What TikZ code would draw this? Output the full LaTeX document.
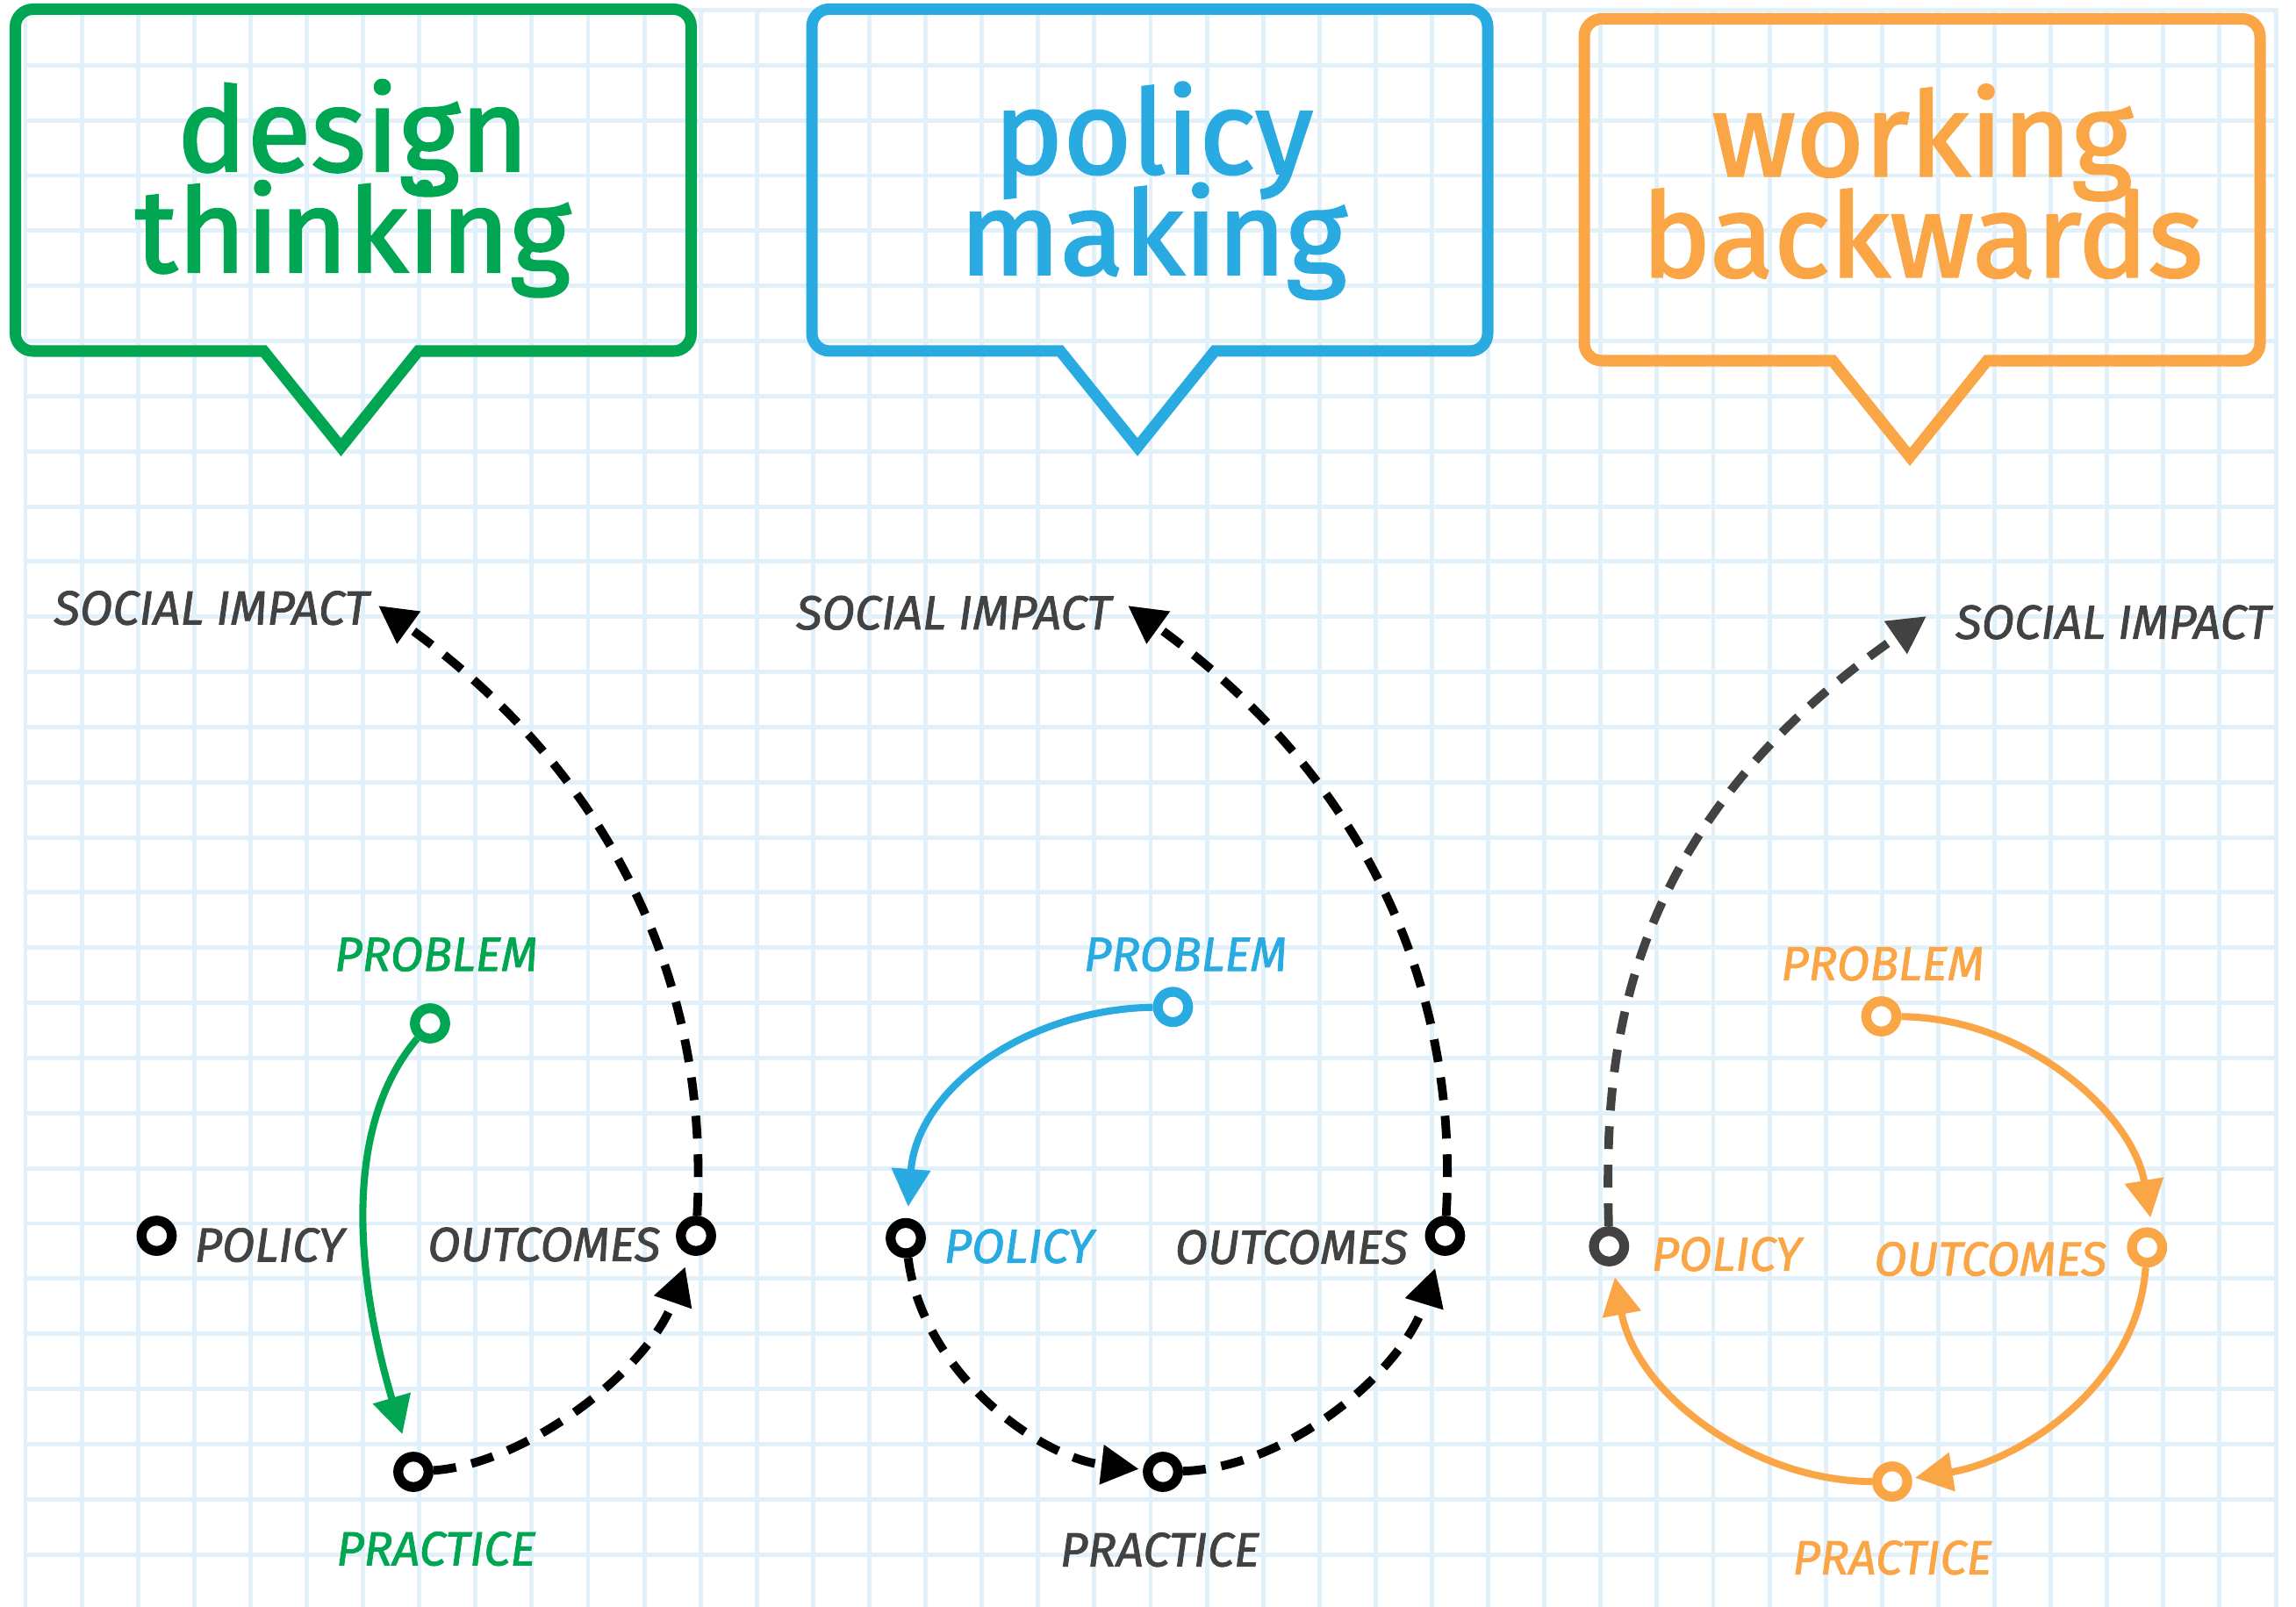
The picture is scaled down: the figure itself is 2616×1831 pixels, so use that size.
\documentclass[tikz,border=0pt]{standalone}
\usepackage{fontspec}
\setmainfont{Fira Sans}
\newfontfamily\titlefont{Fira Sans}[FakeBold=1.8]
\newfontfamily\tagfont{Fira Sans}[FakeBold=1.5]
\newcommand\bubblefont{\titlefont\fontsize{38}{32.7}\selectfont
  \lineskiplimit=-60pt\relax}
\usetikzlibrary{arrows.meta}
\definecolor{dtgreen}{RGB}{0,166,81}
\definecolor{pmblue}{RGB}{41,171,226}
\definecolor{wborange}{RGB}{250,166,70}
\definecolor{inkgray}{RGB}{66,66,66}
\definecolor{gridblue}{RGB}{226,241,249}

\begin{document}
\begin{tikzpicture}[x=0.01cm,y=-0.01cm,
gridline/.style={gridblue,line width=1.4pt},
bubble/.style={line width=3.7pt,line join=miter},
title/.style={anchor=base,inner sep=0pt,align=center,font=\bubblefont},
tag/.style={inner sep=0pt,font=\tagfont\itshape\fontsize{15.5}{15.5}\selectfont},
dot/.style={circle,draw=#1,fill=white,minimum size=0.345cm,inner sep=0pt,
  line width=3.2pt},
dot/.default=black,
flow/.style={line width=2.3pt,-{Triangle[length=12.2pt,width=12.2pt]}},
jump/.style={flow,line width=2.8pt,dash pattern=on 7.4pt off 5.1pt}]
\useasboundingbox (0,0) rectangle (2616,1831);
% giay ke o
\foreach \i in {0,...,40}
\draw[gridline] ({29+64.1*\i},9) -- ({29+64.1*\i},1831);
\foreach \j in {0,...,28}
\draw[gridline] (26.5,{11.5+62.84*\j}) -- (2595.5,{11.5+62.84*\j});
% ba khung loi thoai
\foreach \cx/\ty/\col in {402.5/10.5/dtgreen,1310/10.4/pmblue,
2190/21.5/wborange}
\draw[bubble,\col] ({\cx-14},{\ty+499}) -- ({\cx-102},{\ty+389.5})
[rounded corners=5.7pt] -- ({\cx-385},{\ty+389.5}) -- ({\cx-385},\ty)
-- ({\cx+385},\ty) -- ({\cx+385},{\ty+389.5}) [sharp corners]
-- ({\cx+74},{\ty+389.5}) -- cycle;
\node[title,dtgreen] (t1) at (402,310) {design\\thinking};
\node[title,pmblue] (t2) at (1314,312.7) {policy\\making};
\node[title,wborange] (t3) at (2190,315.4) {working\\backwards};
% design thinking
\node[dot=dtgreen] (p1) at (490,1166) {};
\node[dot] (l1) at (178.5,1408) {};
\node[dot] (o1) at (793,1408) {};
\node[dot] (r1) at (471,1677) {};
\node[tag,dtgreen] (pl1) at (497,1087.4) {PROBLEM};
\node[tag,inkgray,anchor=west] (ll1) at (221,1418.6) {POLICY};
\node[tag,inkgray,anchor=east] (ol1) at (753,1418) {OUTCOMES};
\node[tag,dtgreen] (rl1) at (496.8,1764.7) {PRACTICE};
\node[tag,inkgray] (sl1) at (241,692.8) {SOCIAL IMPACT};
\coordinate (s1tip) at (431,690);
\draw[flow,dtgreen,shorten >=6.2pt] (p1) .. controls (385,1290) and (410,1470) .. (r1);
\draw[jump,shorten >=4.1pt] (r1) .. controls (600,1668) and (740,1560) .. (o1);
\draw[jump] (o1) .. controls (810,1100) and (680,870) .. (s1tip);
% policy making
\node[dot=pmblue] (p2) at (1336.4,1147.3) {};
\node[dot] (l2) at (1032,1410.7) {};
\node[dot] (o2) at (1646.4,1408) {};
\node[dot] (r2) at (1325,1677) {};
\node[tag,pmblue] (pl2) at (1350.7,1087.4) {PROBLEM};
\node[tag,pmblue,anchor=west] (ll2) at (1075,1420) {POLICY};
\node[tag,inkgray,anchor=east] (ol2) at (1604.5,1421) {OUTCOMES};
\node[tag,inkgray] (rl2) at (1321.4,1765.8) {PRACTICE};
\node[tag,inkgray] (sl2) at (1086.6,698.3) {SOCIAL IMPACT};
\coordinate (s2tip) at (1285,690);
\draw[flow,pmblue,shorten >=3.7pt] (p2) .. controls (1170,1150) and (1045,1240) .. (l2);
\draw[jump,shorten >=1.3pt] (l2) .. controls (1050,1560) and (1180,1660) .. (r2);
\draw[jump,shorten >=4.4pt] (r2) .. controls (1470,1672) and (1600,1560) .. (o2);
\draw[jump] (o2) .. controls (1664,1100) and (1534,870) .. (s2tip);
% working backwards
\node[dot=wborange] (p3) at (2143.5,1158) {};
\node[dot=inkgray] (l3) at (1833.3,1420) {};
\node[dot=wborange] (o3) at (2446.3,1421.3) {};
\node[dot=wborange] (r3) at (2155.8,1688) {};
\node[tag,wborange] (pl3) at (2145,1098) {PROBLEM};
\node[tag,wborange,anchor=west] (ll3) at (1881,1429) {POLICY};
\node[tag,wborange,anchor=east] (ol3) at (2401,1434.5) {OUTCOMES};
\node[tag,wborange] (rl3) at (2156,1774.8) {PRACTICE};
\node[tag,inkgray] (sl3) at (2407.7,709) {SOCIAL IMPACT};
\coordinate (s3tip) at (2195,702);
\draw[flow,wborange,shorten >=3.4pt] (p3) .. controls (2310,1160) and (2430,1270) .. (o3.75);
\draw[flow,wborange,shorten >=1pt] (o3) .. controls (2435,1580) and (2300,1665) .. (r3);
\draw[flow,wborange,shorten >=3.7pt] (r3) .. controls (2000,1688) and (1865,1590) .. (l3);
\draw[jump,inkgray] (l3) .. controls (1829,1225) and (1830,956) .. (s3tip);
\end{tikzpicture}
\end{document}
